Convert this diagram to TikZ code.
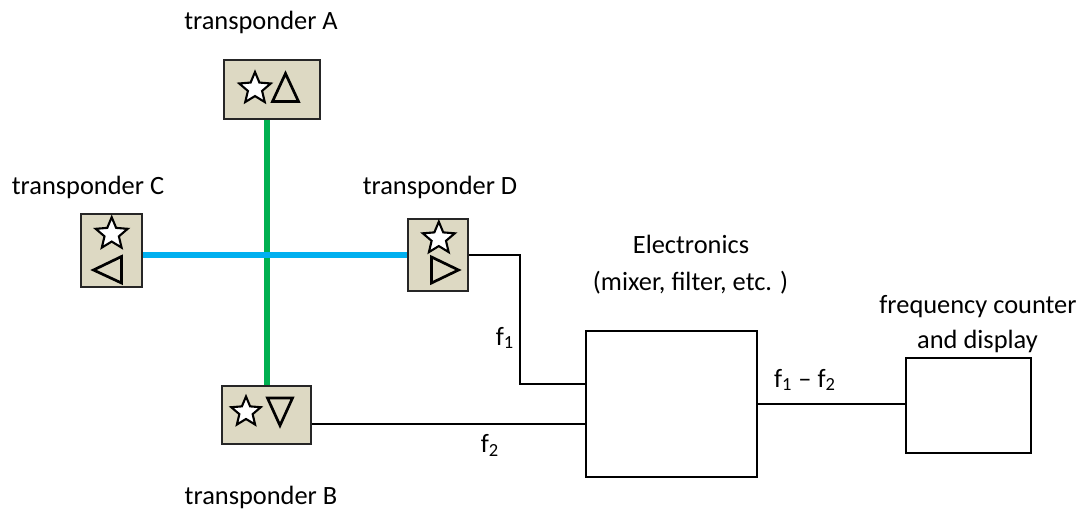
\documentclass[tikz,border=0pt]{standalone}
\usepackage{fontspec}
\setmainfont{Carlito}
\definecolor{boxfill}{HTML}{DDD9C3}
\definecolor{beamgreen}{HTML}{00B050}
\definecolor{beamblue}{HTML}{00B0F0}
\tikzset{
  tbox/.style={draw=black!85, line width=1pt, fill=boxfill, rectangle, inner sep=0pt},
  ebox/.style={draw=black, line width=1pt, fill=white, rectangle, inner sep=0pt},
  lbl/.style={inner sep=0pt, anchor=base, font=\fontsize{13.2}{16}\selectfont},
  wire/.style={draw=black, line width=0.75pt},
  beam/.style={line width=3pt},
  symline/.style={draw=black, line width=1.05pt, line join=miter},
  triline/.style={draw=black, line width=1.35pt, line join=miter},
  starpic/.pic={\draw[symline, fill=white] (270:1) -- (306:0.45) -- (342:1) -- (18:0.45) -- (54:1) -- (90:0.45) -- (126:1) -- (162:0.45) -- (198:1) -- (234:0.45) -- cycle;}
}
\begin{document}
\begin{tikzpicture}[x=0.5pt, y=-0.5pt]
\useasboundingbox[fill=white] (0,0) rectangle (1092,509);

% transponder boxes
\node[tbox, minimum width=48pt, minimum height=29.5pt] (A) at (272,89.5) {};
\node[tbox, minimum width=30.5pt, minimum height=36.5pt] (C) at (111.5,250.5) {};
\node[tbox, minimum width=30pt, minimum height=36pt] (D) at (438,255) {};
\node[tbox, minimum width=44.5pt, minimum height=29pt] (B) at (266.5,415) {};
% electronics and counter
\node[ebox, minimum width=85.5pt, minimum height=73pt] (E) at (671.5,404) {};
\node[ebox, minimum width=62.5pt, minimum height=47.5pt] (F) at (968.5,405.5) {};

% symbols
\pic[scale=16.6] at (255,88.6) {starpic};
\draw[triline] (285.5,73.5) -- (298.5,101.5) -- (272.5,101.5) -- cycle;
\pic[scale=16.8] at (111.7,234) {starpic};
\draw[triline] (93.5,270) -- (121.5,256.5) -- (121.5,283) -- cycle;
\pic[scale=16.8] at (438.8,238.5) {starpic};
\draw[triline] (458.5,270) -- (431.5,257) -- (431.5,283) -- cycle;
\pic[scale=15.5] at (246,412) {starpic};
\draw[triline] (267.5,398) -- (292.5,398) -- (280,425.5) -- cycle;

% beams
\draw[beam, beamgreen] (B.north) -- (B.north |- A.south);
\draw[beam, beamblue] (C.east |- D.west) -- (D.west);

% wires
\coordinate (k1) at (520,384);
\draw[wire] (D.east) -| (k1) -- (k1 -| E.west);
\draw[wire] (B.east |- 0,424) -- (E.west |- 0,424);
\draw[wire] (E.east) -- (E.east -| F.west);

% labels
\node[lbl] (tA) at (261,29.5) {transponder A};
\node[lbl] (tC) at (88,194) {transponder C};
\node[lbl] (tD) at (440,194) {transponder D};
\node[lbl] (tB) at (261,504) {transponder B};
\node[lbl] (e1) at (691,253) {Electronics};
\node[lbl] (e2) at (690.5,290) {(mixer, filter, etc. )};
\node[lbl] (fc1) at (978,313) {frequency counter};
\node[lbl] (fc2) at (977.5,348) {and display};
\node[lbl] (f1) at (505,345) {f\textsubscript{1}};
\node[lbl] (f2) at (490,452.5) {f\textsubscript{2}};
\node[lbl] (f12) at (805,387) {f\textsubscript{1} – f\textsubscript{2}};
\end{tikzpicture}
\end{document}
